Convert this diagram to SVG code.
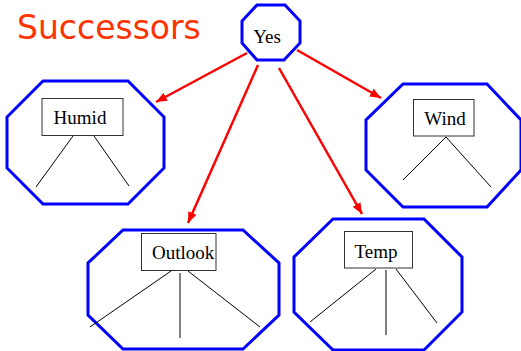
<svg xmlns="http://www.w3.org/2000/svg" width="521" height="351" viewBox="0 0 521 351">
<style>
.oct{fill:none;stroke:#0000ff;stroke-width:3;stroke-linejoin:miter}
.box{fill:#ffffff;stroke:#333333;stroke-width:1}
.lbl{font-family:"Liberation Serif","Times New Roman",serif;font-size:19px;fill:#000000}
.br{stroke:#000000;stroke-width:1;fill:none}
.arr{stroke:#ff0000;stroke-width:2.5;fill:none;marker-end:url(#ah)}
.title{font-family:"DejaVu Sans","Noto Sans",sans-serif;font-size:33px;fill:#ff3300}
</style>
<defs>
<marker id="ah" markerUnits="userSpaceOnUse" markerWidth="12" markerHeight="10" refX="11" refY="4.5" orient="auto">
<path d="M0,0 L11,4.5 L0,9 z" fill="#ff0000"/>
</marker>
</defs>
<rect width="521" height="351" fill="#ffffff"/>
<text class="title" x="17" y="39">Successors</text>
<g id="connectors">
<line class="arr" x1="247" y1="53" x2="156" y2="102"/>
<line class="arr" x1="297" y1="50" x2="381" y2="98"/>
<line class="arr" x1="258" y1="65" x2="188" y2="223"/>
<line class="arr" x1="279" y1="68" x2="362" y2="214"/>
</g>
<g id="yes">
<polygon class="oct" points="257,5 285,5 300,21 300,43 284,60 257,60 242,43 242,21"/>
<text class="lbl" x="267" y="43" text-anchor="middle">Yes</text>
</g>
<g id="humid">
<polygon class="oct" points="43,81 128,81 164,117 164,168 128,204 43,204 7,168 7,117"/>
<rect class="box" x="42" y="98.5" width="81" height="37"/>
<text class="lbl" x="80" y="124" text-anchor="middle">Humid</text>
<line class="br" x1="73" y1="136" x2="36" y2="187"/>
<line class="br" x1="94" y1="136" x2="129" y2="186"/>
</g>
<g id="wind">
<polygon class="oct" points="403,84 487,84 521,120 521,170 487,207 403,207 366,170 366,120"/>
<rect class="box" x="413.5" y="99.5" width="60.5" height="36.5"/>
<text class="lbl" x="445" y="125" text-anchor="middle">Wind</text>
<line class="br" x1="446" y1="137" x2="403" y2="180"/>
<line class="br" x1="446" y1="137" x2="491" y2="187"/>
</g>
<g id="outlook">
<polygon class="oct" points="123,230 243,230 279,263 279,315 243,349 123,349 88,315 88,263"/>
<rect class="box" x="141.5" y="233.5" width="74.5" height="37"/>
<text class="lbl" x="152" y="259">Outlook</text>
<line class="br" x1="171" y1="271" x2="90" y2="327"/>
<line class="br" x1="180" y1="273" x2="180" y2="338"/>
<line class="br" x1="188" y1="271" x2="260" y2="327"/>
</g>
<g id="temp">
<polygon class="oct" points="333,219 424,219 462,257 462,312 424,350 333,350 294,312 294,257"/>
<rect class="box" x="344.5" y="231.5" width="68" height="36.5"/>
<text class="lbl" x="376" y="258" text-anchor="middle">Temp</text>
<line class="br" x1="376" y1="269" x2="310" y2="322"/>
<line class="br" x1="386" y1="270" x2="386" y2="335"/>
<line class="br" x1="396" y1="269" x2="437" y2="323"/>
</g>
</svg>
